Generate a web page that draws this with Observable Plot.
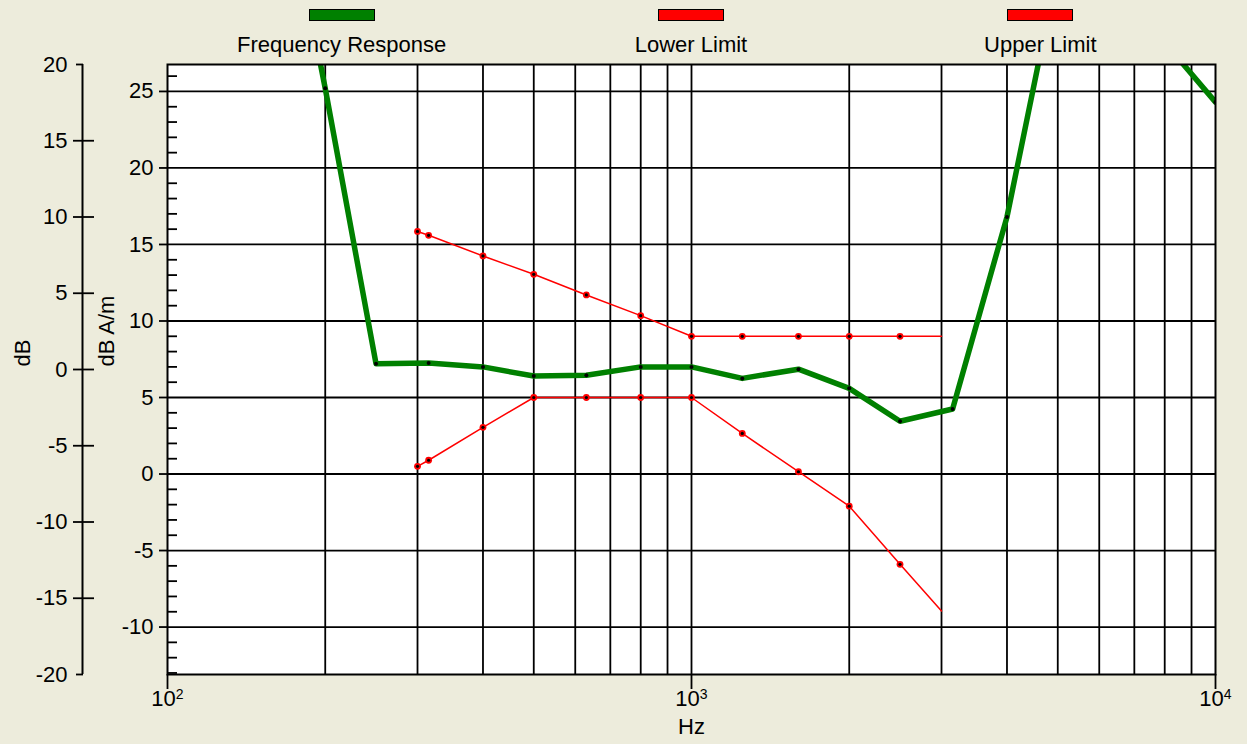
<!DOCTYPE html>
<html><head><meta charset="utf-8">
<script src="https://cdn.jsdelivr.net/npm/d3@7"></script>
<script src="https://cdn.jsdelivr.net/npm/@observablehq/plot@0.6"></script>
<style>
html,body{margin:0;padding:0;background:#edecdc;}
#wrap{position:relative;width:1247px;height:744px;overflow:hidden;font-family:"Liberation Sans",Arial,sans-serif;}
.sw{position:absolute;top:9px;width:64px;height:10px;border:1px solid #000;}
.lg{position:absolute;top:34px;width:300px;text-align:center;font-size:22px;line-height:22px;color:#000;}
#wrap svg{position:absolute;left:0;top:0;}
</style></head>
<body><div id="wrap"></div>
<script>
// ---- data ----
const seriesNames = ["Frequency Response", "Lower Limit", "Upper Limit"];
const seriesColors = ["#008000", "#ff0000", "#ff0000"];

const respFreq = [160, 200, 250, 315, 400, 500, 630, 800, 1000, 1250, 1600, 2000, 2500, 3150, 4000, 5000, 6300, 8000, 10000];
const respDb   = [42, 25.2, 7.2, 7.25, 7.0, 6.4, 6.45, 7.0, 7.0, 6.25, 6.85, 5.6, 3.45, 4.25, 16.8, 33, 36, 28.2, 24.3];

const limitFreq = [300, 315, 400, 500, 630, 800, 1000, 1250, 1600, 2000, 2500, 3000];
const upperDb   = [15.85, 15.6, 14.25, 13.05, 11.7, 10.35, 9, 9, 9, 9, 9, 9];
const lowerDb   = [0.5, 0.9, 3.05, 5, 5, 5, 5, 2.65, 0.15, -2.1, -5.9, -8.95];

const xMajor = [100, 1000, 10000];
const xMajorLabels = ["10²", "10³", "10⁴"];
const xGrid = [200, 300, 400, 500, 600, 700, 800, 900, 1000, 2000, 3000, 4000, 5000, 6000, 7000, 8000, 9000];
const yMajor = [-10, -5, 0, 5, 10, 15, 20, 25];
const yMinor = d3.range(-13, 27).filter(v => v % 5 !== 0);
const outerTicks = [-20, -15, -10, -5, 0, 5, 10, 15, 20];

// ---- scales ----
const Y_TOP = 26.76, Y_BOT = -13.1;          // inner axis (dB A/m) domain
const toInner = v => Y_BOT + (v + 20) / 40 * (Y_TOP - Y_BOT); // outer dB axis -20..20 spans the frame

const resp = respFreq.map((f, i) => ({f, v: respDb[i]}));
const upper = limitFreq.map((f, i) => ({f, v: upperDb[i]}));
const lower = limitFreq.map((f, i) => ({f, v: lowerDb[i]}));
const respDots = resp.filter(d => d.v <= Y_TOP && d.v >= Y_BOT);
const upperDots = upper.slice(0, -1);
const lowerDots = lower.slice(0, -1);

const font = "Liberation Sans, Arial, sans-serif";
const K = "#000";
const gw = 1.8;

const chart = Plot.plot({
  width: 1247, height: 744,
  marginTop: 64, marginBottom: 70, marginLeft: 167, marginRight: 32,
  style: {background: "transparent", fontFamily: font, color: "#000", overflow: "visible"},
  x: {type: "log", domain: [100, 10000], axis: null},
  y: {domain: [Y_BOT, Y_TOP], axis: null},
  marks: [
    Plot.frame({fill: "#fff", stroke: null}),
    Plot.ruleX(xGrid, {stroke: K, strokeWidth: gw}),
    Plot.ruleY(yMajor, {stroke: K, strokeWidth: gw}),
    // inner minor ticks (inside the frame)
    Plot.ruleY(yMinor, {y: d => d, x1: () => 100, x2: () => 100, insetRight: -10, stroke: K, strokeWidth: gw}),
    // inner major ticks (outside the frame)
    Plot.ruleY(yMajor, {y: d => d, x1: () => 100, x2: () => 100, insetLeft: -8, stroke: K, strokeWidth: gw}),
    // x major ticks below
    Plot.ruleX(xMajor, {x: d => d, y1: () => Y_BOT, y2: () => Y_BOT, insetBottom: -15, stroke: K, strokeWidth: gw}),
    // outer dB axis
    Plot.ruleX([100], {dx: -85, stroke: K, strokeWidth: 2}),
    Plot.ruleY(outerTicks.slice(1, -1), {y: toInner, x1: () => 100, x2: () => 100, insetLeft: -94, insetRight: 73, stroke: K, strokeWidth: gw}),
    Plot.ruleY([outerTicks[0], outerTicks[outerTicks.length - 1]], {y: toInner, x1: () => 100, x2: () => 100, insetLeft: -91, insetRight: 84, stroke: K, strokeWidth: gw}),
    // series
    Plot.line(upper, {x: "f", y: "v", stroke: seriesColors[2], strokeWidth: 1.5}),
    Plot.line(lower, {x: "f", y: "v", stroke: seriesColors[1], strokeWidth: 1.5}),
    Plot.dot(upperDots, {x: "f", y: "v", r: 3.4, fill: seriesColors[2]}),
    Plot.dot(lowerDots, {x: "f", y: "v", r: 3.4, fill: seriesColors[1]}),
    Plot.dot(upperDots, {x: "f", y: "v", r: 1.6, fill: K}),
    Plot.dot(lowerDots, {x: "f", y: "v", r: 1.6, fill: K}),
    Plot.line(resp, {x: "f", y: "v", stroke: seriesColors[0], strokeWidth: 5.5, clip: true}),
    Plot.dot(respDots, {x: "f", y: "v", r: 2, fill: K, clip: true}),
    Plot.frame({stroke: K, strokeWidth: 2}),
    // labels
    Plot.text(yMajor, {y: d => d, text: d => String(d), frameAnchor: "left", textAnchor: "end", dx: -14, fontSize: 22, fill: K}),
    Plot.text(outerTicks, {y: toInner, text: d => String(d), frameAnchor: "left", textAnchor: "end", dx: -100, fontSize: 22, fill: K}),
    Plot.text(xMajor, {x: d => d, text: (d, i) => xMajorLabels[i], frameAnchor: "bottom", dy: 31, fontSize: 22, fill: K}),
    Plot.text(["Hz"], {frameAnchor: "bottom", dy: 59, fontSize: 22, fill: K}),
    Plot.text(["dB"], {frameAnchor: "left", dx: -145, dy: -3, rotate: -90, fontSize: 22, fill: K}),
    Plot.text(["dB A/m"], {frameAnchor: "left", dx: -61, dy: -3, rotate: -90, fontSize: 22, fill: K})
  ]
});

// render superscript exponents of the x tick labels a little larger
const supMap = {"²": "2", "³": "3", "⁴": "4"};
chart.querySelectorAll("text").forEach(t => {
  const m = /^10([²³⁴])$/.exec(t.textContent);
  if (!m) return;
  t.textContent = "10";
  const ts = document.createElementNS("http://www.w3.org/2000/svg", "tspan");
  ts.setAttribute("font-size", "14");
  ts.setAttribute("dy", "-7");
  ts.textContent = supMap[m[1]];
  t.appendChild(ts);
});

const wrap = document.getElementById("wrap");
wrap.appendChild(chart);

// legend (HTML, above the frame)
const fx0 = 167, fw = 1048;
seriesNames.forEach((name, i) => {
  const cx = fx0 + fw * (2 * i + 1) / 6;
  const sw = document.createElement("div");
  sw.className = "sw";
  sw.style.left = (cx - 33) + "px";
  sw.style.background = seriesColors[i];
  wrap.appendChild(sw);
  const lg = document.createElement("div");
  lg.className = "lg";
  lg.style.left = (cx - 150) + "px";
  lg.textContent = name;
  wrap.appendChild(lg);
});
</script></body></html>
